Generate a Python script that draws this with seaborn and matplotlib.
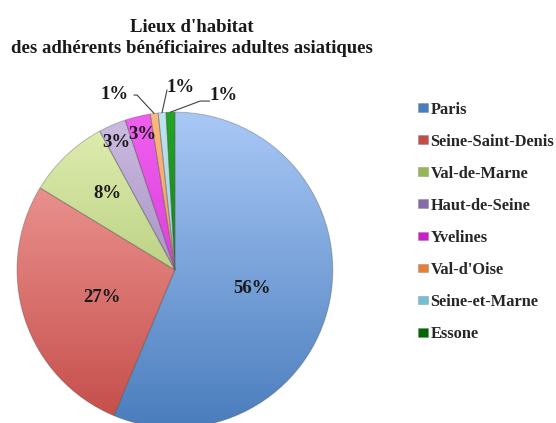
import matplotlib
matplotlib.use("Agg")
import matplotlib.pyplot as plt
import numpy as np
import seaborn as sns
from matplotlib.colors import LinearSegmentedColormap
from matplotlib.patches import Patch

sns.set_theme(style="white")
plt.rcParams["font.family"] = ["Liberation Serif", "DejaVu Serif"]

# data (share of members, %)
lieux = ["Paris", "Seine-Saint-Denis", "Val-de-Marne", "Haut-de-Seine",
         "Yvelines", "Val-d'Oise", "Seine-et-Marne", "Essone"]
parts = [56.3, 27.4, 8.4, 2.8, 2.6, 0.8, 0.8, 0.9]

# light (top) / dark (bottom) shades of each slice
clairs = ["#a9c8f6", "#f5a6a3", "#e2efb4", "#cdbde2", "#f060f0", "#fbb97f", "#bde4ee", "#22a622"]
foncés = ["#4a7dbd", "#c44c48", "#97b656", "#856aa8", "#c81fc8", "#e57f36", "#76bfd3", "#006800"]

fig = plt.figure(figsize=(5.56, 4.23), dpi=100)
ax = fig.add_axes([0.0306, -0.0118, 0.568, 0.747])

wedges, _ = ax.pie(parts, startangle=90, counterclock=False, radius=1,
                   colors=foncés,
                   wedgeprops=dict(linewidth=0.7))

grad = np.linspace(0, 1, 256).reshape(-1, 1)
for w, c1, c2 in zip(wedges, clairs, foncés):
    cmap = LinearSegmentedColormap.from_list("g", [c1, c2])
    im = ax.imshow(grad, cmap=cmap, extent=(-1, 1, -1, 1), origin="upper",
                   aspect="auto", zorder=0.5)
    im.set_clip_path(w)
    w.set_facecolor("none")
    w.set_edgecolor((0.3, 0.3, 0.3, 0.35))
    w.set_zorder(2)

ax.set_xlim(-1, 1)
ax.set_ylim(-1, 1)
ax.set_aspect("equal")
ax.axis("off")

# label positions (data units) for each slice
pos_lab = [(0.487, -0.114), (-0.462, -0.177), (-0.430, 0.487), (-0.372, 0.808),
           (-0.205, 0.856), (-0.385, 1.114), (0.038, 1.158), (0.310, 1.108)]
petits = [5, 6, 7]

for i, (w, p) in enumerate(zip(wedges, parts)):
    txt = f"{round(p):.0f}%"
    if i in petits:
        mid = np.deg2rad((w.theta1 + w.theta2) / 2)
        edge = (np.cos(mid) * 1.0, np.sin(mid) * 1.0)
        if i == 5:
            coude = (-0.24, 1.108)
            ax.plot([edge[0], coude[0], coude[0] - 0.02], [edge[1], coude[1], coude[1]],
                    color="#404040", lw=0.8, clip_on=False, zorder=3)
        elif i == 6:
            ax.plot([edge[0], -0.05], [edge[1], 1.14],
                    color="#404040", lw=0.8, clip_on=False, zorder=3)
        else:
            coude = (0.16, 1.07)
            ax.plot([edge[0], coude[0], coude[0] + 0.06], [edge[1], coude[1], coude[1]],
                    color="#404040", lw=0.8, clip_on=False, zorder=3)
    ax.text(pos_lab[i][0], pos_lab[i][1], txt, ha="center", va="center",
            fontsize=13.5, fontweight="bold", color="#1a1a1a", zorder=4, clip_on=False)

fig.text(0.345, 0.91, "Lieux d'habitat\ndes adhérents bénéficiaires adultes asiatiques",
         ha="center", va="center", fontsize=13.5, fontweight="bold",
         linespacing=1.3, color="#1a1a1a")

handles = [Patch(facecolor=c, edgecolor=(0.4, 0.4, 0.4, 0.5), linewidth=0.4) for c in foncés]
fig.legend(handles, lieux, loc="upper left", bbox_to_anchor=(0.752, 0.76),
           frameon=False, labelspacing=0.98, handlelength=0.6,
           handleheight=0.45, handletextpad=0.15, borderpad=0, borderaxespad=0,
           prop=dict(weight="bold", size=11.8))

fig.savefig("out.png", dpi=100)
